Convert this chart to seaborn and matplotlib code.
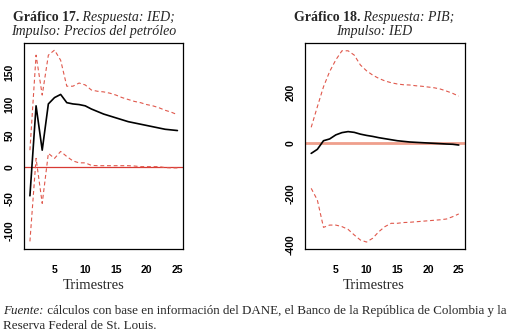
import numpy as np
import pandas as pd
import matplotlib as mpl
mpl.use("Agg")
import matplotlib.pyplot as plt
import seaborn as sns

# -- data ---------------------------------------------------------------------
trimestres = np.arange(1, 26)

ied_irf = [-45, 97, 27, 100, 110, 115, 102, 100, 99, 97, 92, 88, 84, 81, 78,
           75, 72, 70, 68, 66, 64, 62, 60, 59, 58]
ied_upper = [27, 177, 114, 177, 185, 169, 128, 128, 133, 130, 122, 120, 119,
             117, 114, 110, 107, 104, 102, 99, 97, 94, 90, 87, 83]
ied_lower = [-117, 14, -57, 22, 14, 25, 17, 10, 7, 7, 3, 2.5, 2.5, 2.5, 2.5,
             2.5, 2.5, 2, 1, 1, 1, 1, -0.5, -1, -1]

pib_irf = [-41, -25, 9, 16, 32, 41, 45, 42, 35, 30, 26, 21, 17, 13, 9, 6.5, 4,
           2.6, 1.3, 0, -1.3, -2.6, -4, -5, -8]
pib_upper = [62, 143, 222, 282, 328, 364, 364, 347, 308, 285, 268, 255, 245,
             238, 233, 230, 229, 226, 224, 221, 218, 213, 205, 196, 185]
pib_lower = [-179, -225, -333, -324, -324, -330, -341, -363, -383, -391, -376,
             -350, -330, -317, -317, -314, -313, -311, -309, -307, -305, -303,
             -300, -291, -280]

xticks = [5, 10, 15, 20, 25]
yticks_17 = [-100, -50, 0, 50, 100, 150]
yticks_18 = [-400, -200, 0, 200]

titulos = [("Gráfico 17.", "Respuesta: IED;", "Impulso: Precios del petróleo"),
           ("Gráfico 18.", "Respuesta: PIB;", "Impulso: IED")]
fuente_1 = " cálculos con base en información del DANE, el Banco de la República de Colombia y la"
fuente_2 = "Reserva Federal de St. Louis."

# -- figure ---------------------------------------------------------------------
sns.set_style("white")
plt.rcParams["font.family"] = ["Liberation Sans", "DejaVu Sans"]
plt.rcParams["axes.unicode_minus"] = False
serif = ["Liberation Serif", "DejaVu Serif"]

fig = plt.figure(figsize=(5.2, 3.34), dpi=100)

panels = [
    dict(pos=[0.0462, 0.2536, 0.3063, 0.6186], irf=ied_irf, up=ied_upper,
         lo=ied_lower, ylim=(-129.5, 196.7), yticks=yticks_17,
         zero=dict(color="#d83a34", lw=0.9), lab_x=0.439),
    dict(pos=[0.5871, 0.2536, 0.3065, 0.6186], irf=pib_irf, up=pib_upper,
         lo=pib_lower, ylim=(-419.6, 396), yticks=yticks_18,
         zero=dict(color="#ef9f8c", lw=2.0), lab_x=0.431),
]

for p in panels:
    ax = fig.add_axes(p["pos"])
    df = pd.DataFrame({"t": trimestres, "irf": p["irf"],
                       "up": p["up"], "lo": p["lo"]})
    ax.axhline(0, **p["zero"], zorder=1)
    sns.lineplot(data=df, x="t", y="up", ax=ax, color="#e0584c", lw=0.8,
                 linestyle=(0, (3.5, 2.5)), zorder=2)
    sns.lineplot(data=df, x="t", y="lo", ax=ax, color="#e0584c", lw=0.8,
                 linestyle=(0, (3.5, 2.5)), zorder=2)
    sns.lineplot(data=df, x="t", y="irf", ax=ax, color="black", lw=1.2,
                 zorder=3)
    ax.set_xlim(0.04, 25.96)
    ax.set_ylim(*p["ylim"])
    ax.set_xticks(xticks)
    ax.set_yticks(p["yticks"])
    for s in ax.spines.values():
        s.set_visible(True)
        s.set_color("black")
        s.set_linewidth(0.9)
    ax.tick_params(axis="both", direction="out", length=4, width=0.9,
                   labelsize=7.5, colors="black")
    ax.tick_params(axis="x", pad=7)
    ax.tick_params(axis="y", pad=3, labelrotation=90)
    for lab in ax.get_yticklabels():
        lab.set_va("center")
    for lab in ax.get_xticklabels() + ax.get_yticklabels():
        lab.set_fontweight("bold")
    ax.set_xlabel("Trimestres", family=serif, fontsize=10.5)
    ax.xaxis.set_label_coords(p["lab_x"], -0.145)
    ax.set_ylabel("")

# -- titles (bold + italic on one line) -------------------------------------
fig.canvas.draw()
rend = fig.canvas.get_renderer()


def mixed_line(cx, y, first, second, first_kw, second_kw, center=True):
    t1 = fig.text(0, y, first, family=serif, va="baseline", **first_kw)
    t2 = fig.text(0, y, second, family=serif, va="baseline", **second_kw)
    w1 = t1.get_window_extent(rend).width / fig.bbox.width
    w2 = t2.get_window_extent(rend).width / fig.bbox.width
    x0 = cx - (w1 + w2) / 2 if center else cx
    t1.set_x(x0)
    t2.set_x(x0 + w1)


for cx, (b, i1, i2) in zip([94 / 520, 374 / 520], titulos):
    mixed_line(cx, 1 - 21 / 334, b, " " + i1,
               dict(fontsize=10, fontweight="bold"),
               dict(fontsize=10, style="italic"))
    fig.text(cx, 1 - 35 / 334, i2, family=serif, fontsize=10, style="italic",
             ha="center", va="baseline")

# -- source note ----------------------------------------------------------------
mixed_line(3 / 520, 1 - 314 / 334, "Fuente:", fuente_1,
           dict(fontsize=9.4, style="italic"), dict(fontsize=9.4), center=False)
fig.text(3 / 520, 1 - 329 / 334, fuente_2, family=serif, fontsize=9.4,
         va="baseline")

fig.savefig("out.png", dpi=100)
